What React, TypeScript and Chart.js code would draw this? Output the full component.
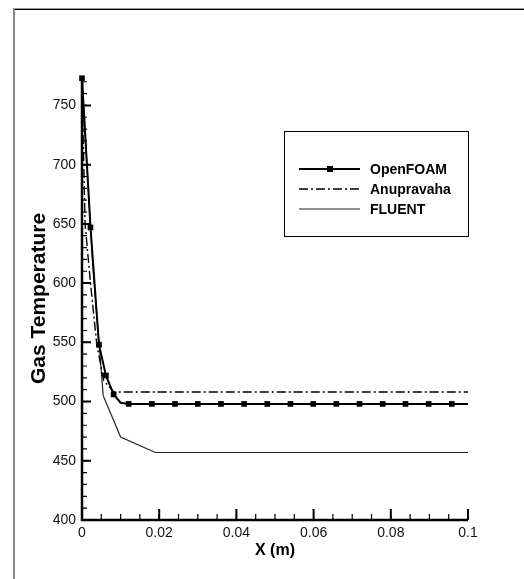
import React, { useEffect, useRef } from "react";
import { Chart, registerables } from "chart.js";

Chart.register(...registerables);

const X_TICKS = [0, 0.02, 0.04, 0.06, 0.08, 0.1];
const X_TICK_LABELS = ["0", "0.02", "0.04", "0.06", "0.08", "0.1"];
const Y_TICKS = [400, 450, 500, 550, 600, 650, 700, 750];
const Y_TICK_LABELS = ["400", "450", "500", "550", "600", "650", "700", "750"];
const X_MINOR_STEP = 0.005;
const Y_MINOR_STEP = 10;
const X_MIN = 0;
const X_MAX = 0.1;
const Y_MIN = 400;
const Y_MAX = 774;

const OPENFOAM_X = [0, 0.0022, 0.0044, 0.0062, 0.0082, 0.01, 0.0121, 0.0181, 0.0241, 0.03, 0.036, 0.042, 0.048, 0.054, 0.0599, 0.0659, 0.0719, 0.0779, 0.0838, 0.0898, 0.0958, 0.1];
const OPENFOAM_Y = [773, 647, 548, 522, 506, 499, 498, 498, 498, 498, 498, 498, 498, 498, 498, 498, 498, 498, 498, 498, 498, 498];
const OPENFOAM_MARKER = [1, 1, 1, 1, 1, 0, 1, 1, 1, 1, 1, 1, 1, 1, 1, 1, 1, 1, 1, 1, 1, 0];

const ANUPRAVAHA_X = [0, 0.0008, 0.0022, 0.0038, 0.0056, 0.0082, 0.1];
const ANUPRAVAHA_Y = [768, 650, 600, 549, 518, 508, 508];

const FLUENT_X = [0, 0.0028, 0.0055, 0.01, 0.019, 0.1];
const FLUENT_Y = [772, 615, 505, 470, 457, 457];

const SERIES_LABELS = ["OpenFOAM", "Anupravaha", "FLUENT"];

const FONT = '"Liberation Sans", Arial, sans-serif';

const axesPlugin = {
  id: "customAxes",
  afterDatasetsDraw(chart: any) {
    const { ctx, chartArea, scales } = chart;
    const { left, right, top, bottom } = chartArea;
    const xs = scales.x;
    const ys = scales.y;
    ctx.save();
    ctx.strokeStyle = "#000";
    ctx.lineCap = "butt";
    ctx.lineWidth = 1.2;
    ctx.beginPath();
    for (let v = X_MIN; v <= X_MAX + 1e-9; v += X_MINOR_STEP) {
      const px = xs.getPixelForValue(v);
      ctx.moveTo(px, bottom);
      ctx.lineTo(px, bottom - 6);
    }
    for (let v = Y_MIN; v <= Y_MAX; v += Y_MINOR_STEP) {
      const py = ys.getPixelForValue(v);
      ctx.moveTo(left, py);
      ctx.lineTo(left + 5, py);
    }
    ctx.stroke();
    ctx.lineWidth = 2;
    ctx.beginPath();
    X_TICKS.forEach((v) => {
      const px = xs.getPixelForValue(v);
      ctx.moveTo(px, bottom);
      ctx.lineTo(px, bottom - 11);
    });
    Y_TICKS.forEach((v) => {
      const py = ys.getPixelForValue(v);
      ctx.moveTo(left, py);
      ctx.lineTo(left + 9, py);
    });
    ctx.stroke();
    ctx.lineWidth = 2.5;
    ctx.beginPath();
    ctx.moveTo(left, top);
    ctx.lineTo(left, bottom);
    ctx.lineTo(right, bottom);
    ctx.stroke();
    ctx.restore();
  },
};

const legendPlugin = {
  id: "boxLegend",
  afterDraw(chart: any) {
    const { ctx } = chart;
    ctx.save();
    ctx.strokeStyle = "#000";
    ctx.lineWidth = 1;
    ctx.setLineDash([]);
    ctx.strokeRect(284.5, 131.5, 184, 105);
    chart.data.datasets.forEach((ds: any, i: number) => {
      const y = 169 + i * 20;
      ctx.beginPath();
      ctx.setLineDash(ds.borderDash || []);
      ctx.lineWidth = ds.borderWidth;
      ctx.strokeStyle = ds.borderColor;
      ctx.moveTo(299, y);
      ctx.lineTo(360, y);
      ctx.stroke();
      ctx.setLineDash([]);
      if (ds.legendMarker) {
        ctx.fillStyle = "#000";
        ctx.fillRect(327, y - 3, 6, 6);
      }
      ctx.fillStyle = "#000";
      ctx.font = `bold 14px ${FONT}`;
      ctx.textBaseline = "middle";
      ctx.textAlign = "left";
      ctx.fillText(ds.label, 370, y + 1);
    });
    ctx.restore();
  },
};

export default function App() {
  const ref = useRef<HTMLCanvasElement | null>(null);

  useEffect(() => {
    if (!ref.current) return;
    const chart = new Chart(ref.current, {
      type: "line",
      data: {
        datasets: [
          {
            label: SERIES_LABELS[0],
            data: OPENFOAM_X.map((x, i) => ({ x, y: OPENFOAM_Y[i] })),
            borderColor: "#000",
            backgroundColor: "#000",
            borderWidth: 2,
            pointStyle: "rect",
            pointRadius: OPENFOAM_MARKER.map((m) => (m ? 4 : 0)),
            pointBorderWidth: 0,
            tension: 0,
            clip: false,
            legendMarker: true,
          } as any,
          {
            label: SERIES_LABELS[1],
            data: ANUPRAVAHA_X.map((x, i) => ({ x, y: ANUPRAVAHA_Y[i] })),
            borderColor: "#000",
            borderWidth: 1.4,
            borderDash: [9, 3, 2, 3],
            pointRadius: 0,
            tension: 0,
            clip: false,
          } as any,
          {
            label: SERIES_LABELS[2],
            data: FLUENT_X.map((x, i) => ({ x, y: FLUENT_Y[i] })),
            borderColor: "#222",
            borderWidth: 1.2,
            pointRadius: 0,
            tension: 0,
            clip: false,
          } as any,
        ],
      },
      options: {
        responsive: false,
        animation: false,
        events: [],
        layout: { padding: { top: 77, right: 56, left: 0, bottom: 0 } },
        plugins: {
          legend: { display: false },
          tooltip: { enabled: false },
          title: { display: false },
        },
        scales: {
          x: {
            type: "linear",
            min: X_MIN,
            max: X_MAX,
            afterBuildTicks: (s: any) => {
              s.ticks = X_TICKS.map((v) => ({ value: v }));
            },
            afterFit: (s: any) => {
              s.height = 59;
              s.paddingLeft = 0;
              s.paddingRight = 0;
            },
            ticks: {
              callback: (_v: any, i: number) => X_TICK_LABELS[i],
              font: { family: FONT, size: 14 },
              color: "#111",
              padding: 5,
              maxRotation: 0,
              autoSkip: false,
            },
            grid: { display: false, drawTicks: false, tickLength: 0 },
            border: { display: false },
            title: {
              display: true,
              text: "X (m)",
              color: "#000",
              font: { family: FONT, size: 16, weight: "bold" },
              padding: { top: 0, bottom: 19 },
            },
          },
          y: {
            type: "linear",
            min: Y_MIN,
            max: Y_MAX,
            afterBuildTicks: (s: any) => {
              s.ticks = Y_TICKS.map((v) => ({ value: v }));
            },
            afterFit: (s: any) => {
              s.width = 82;
              s.paddingTop = 0;
              s.paddingBottom = 0;
            },
            ticks: {
              callback: (_v: any, i: number) => Y_TICK_LABELS[i],
              font: { family: FONT, size: 14 },
              color: "#111",
              padding: 6,
              autoSkip: false,
            },
            grid: { display: false, drawTicks: false, tickLength: 0 },
            border: { display: false },
            title: {
              display: true,
              text: "Gas Temperature",
              color: "#000",
              font: { family: FONT, size: 21, weight: "bold" },
              padding: { top: 27, bottom: 0 },
            },
          },
        },
      } as any,
      plugins: [axesPlugin, legendPlugin],
    });
    return () => chart.destroy();
  }, []);

  return (
    <div
      style={{
        position: "fixed",
        left: 0,
        top: 0,
        width: 524,
        height: 579,
        overflow: "hidden",
        background: "#fff",
      }}
    >
      <div
        style={{
          position: "absolute",
          left: 13,
          top: 8,
          width: 700,
          height: 800,
          borderTop: "1px solid #999",
          borderLeft: "2px solid #888",
        }}
      />
      <div
        style={{
          position: "absolute",
          left: 15,
          top: 9,
          width: 700,
          height: 1,
          background: "#000",
        }}
      />
      <canvas
        ref={ref}
        width={524}
        height={579}
        style={{ position: "absolute", left: 0, top: 0, width: 524, height: 579 }}
      />
    </div>
  );
}
